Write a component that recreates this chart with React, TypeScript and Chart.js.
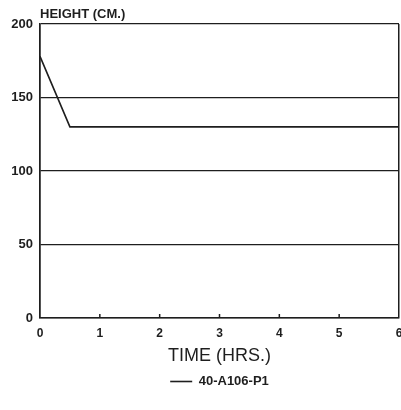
import React, { useEffect, useRef } from "react";
import { Chart, registerables } from "chart.js";

Chart.register(...registerables);

const timeHrs = [0, 0.5, 6];
const heightCm = [178, 130, 130];
const seriesLabel = "40-A106-P1";
const xTickValues = [0, 1, 2, 3, 4, 5, 6];
const yTickValues = [0, 50, 100, 150, 200];
const xTitle = "TIME (HRS.)";
const yTitle = "HEIGHT (CM.)";

const INK = "#1e1e1e";
const FONT = "'Liberation Sans', Arial, sans-serif";

export default function App() {
  const ref = useRef<HTMLCanvasElement | null>(null);

  useEffect(() => {
    document.body.style.margin = "0";
    const canvas = ref.current;
    if (!canvas) return;

    const marks = {
      id: "marks",
      afterDraw(chart: any) {
        const { ctx, chartArea, scales } = chart;
        const x = scales.x;
        ctx.save();
        ctx.strokeStyle = INK;
        ctx.lineWidth = 1.5;
        xTickValues.slice(1, -1).forEach((v) => {
          const px = x.getPixelForValue(v);
          ctx.beginPath();
          ctx.moveTo(px, chartArea.bottom);
          ctx.lineTo(px, chartArea.bottom - 4);
          ctx.stroke();
        });
        ctx.fillStyle = INK;
        ctx.font = `bold 13px ${FONT}`;
        ctx.textAlign = "left";
        ctx.textBaseline = "alphabetic";
        ctx.fillText(yTitle, chartArea.left, chartArea.top - 6);
        ctx.restore();
      },
    };

    const chart = new Chart(canvas, {
      type: "line",
      data: {
        datasets: [
          {
            label: seriesLabel,
            data: timeHrs.map((t, i) => ({ x: t, y: heightCm[i] })),
            borderColor: INK,
            backgroundColor: INK,
            borderWidth: 1.6,
            pointRadius: 0,
            tension: 0,
            fill: false,
          },
        ],
      },
      options: {
        animation: false,
        responsive: false,
        maintainAspectRatio: false,
        layout: { padding: { top: 24, right: 2, left: 0, bottom: 12 } },
        scales: {
          x: {
            type: "linear",
            min: 0,
            max: 6,
            afterBuildTicks: (s: any) => {
              s.ticks = xTickValues.map((v) => ({ value: v }));
            },
            afterFit: (s: any) => {
              s.paddingRight = 0;
              s.paddingLeft = 0;
            },
            ticks: {
              color: INK,
              font: { family: FONT, size: 12, weight: "bold" },
              padding: 8,
            },
            grid: {
              drawTicks: false,
              color: (c: any) =>
                c.tick && (c.tick.value === 0 || c.tick.value === 6) ? INK : "transparent",
              lineWidth: 1.5,
            },
            border: { display: true, color: INK, width: 1.5 },
            title: {
              display: true,
              text: xTitle,
              color: INK,
              font: { family: FONT, size: 18 },
              padding: { top: -3, bottom: 0 },
            },
          },
          y: {
            type: "linear",
            min: 0,
            max: 200,
            afterBuildTicks: (s: any) => {
              s.ticks = yTickValues.map((v) => ({ value: v }));
            },
            afterFit: (s: any) => {
              s.width = 40;
            },
            ticks: {
              color: INK,
              font: { family: FONT, size: 13, weight: "bold" },
              padding: 7,
            },
            grid: { drawTicks: false, color: INK, lineWidth: 1.3 },
            border: { display: true, color: INK, width: 1.5 },
          },
        },
        plugins: {
          legend: {
            position: "bottom",
            fullSize: false,
            labels: {
              color: INK,
              font: { family: FONT, size: 13, weight: "bold" },
              usePointStyle: true,
              pointStyle: "line",
              pointStyleWidth: 22,
              padding: 8,
            },
          },
          tooltip: { enabled: false },
        },
      },
      plugins: [marks],
    } as any);

    return () => chart.destroy();
  }, []);

  return (
    <div style={{ width: 401, height: 410, background: "#fff" }}>
      <canvas ref={ref} width={401} height={410} style={{ display: "block" }} />
    </div>
  );
}
